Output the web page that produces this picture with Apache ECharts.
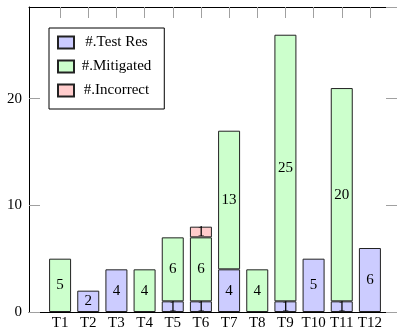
<!DOCTYPE html>
<html>
<head>
<meta charset="utf-8">
<style>
  html, body { margin: 0; padding: 0; background: #fff; }
  #chart { width: 397px; height: 331px; }
</style>
<script src="https://cdn.jsdelivr.net/npm/echarts@6/dist/echarts.min.js"></script>
</head>
<body>
<div id="chart"></div>
<script>
// Test cases and the outcome counts stacked per case
const categories = ['T1', 'T2', 'T3', 'T4', 'T5', 'T6', 'T7', 'T8', 'T9', 'T10', 'T11', 'T12'];
const testRes    = [0, 2, 4, 0, 1, 1, 4, 0, 1, 5, 1, 6];
const mitigated  = [5, 0, 0, 4, 6, 6, 13, 4, 25, 0, 20, 0];
const incorrect  = [0, 0, 0, 0, 0, 1, 0, 0, 0, 0, 0, 0];
const seriesNames = ['#.Test Res', '#.Mitigated', '#.Incorrect'];
const yMax = 28.6;
const yStep = 10;

const FONT = 'Liberation Serif';
const FONT_SIZE = 15;
const INK = '#222';
const TICK = '#a0a0a0';

// Plot frame geometry (outer frame and the inner band holding the bars)
const frame = { left: 29, top: 7, width: 372, height: 305 };
const band  = { left: 46, top: 7, width: 338, height: 305 };

const fills = ['#ccccff', '#ccffcc', '#ffcccc'];
const values = [testRes, mitigated, incorrect];

const chart = echarts.init(document.getElementById('chart'), null, { renderer: 'canvas' });

const series = values.map((vals, i) => ({
  name: seriesNames[i],
  type: 'bar',
  stack: 'total',
  xAxisIndex: 2,
  yAxisIndex: 2,
  barWidth: 22,
  data: vals.map(v => (v === 0 ? '-' : v)),
  itemStyle: { color: fills[i], borderColor: INK, borderWidth: 1 },
  label: {
    show: true,
    position: 'inside',
    color: '#000',
    fontFamily: FONT,
    fontSize: FONT_SIZE
  },
  emphasis: { disabled: true }
}));

const frameLine = { show: true, onZero: false, lineStyle: { color: '#000', width: 1 } };

chart.setOption({
  animation: false,
  textStyle: { fontFamily: FONT },
  grid: [
    Object.assign({ containLabel: false }, frame),
    Object.assign({ containLabel: false }, band)
  ],
  legend: {
    data: seriesNames,
    orient: 'vertical',
    left: 49,
    top: 28,
    padding: [7, 13, 11, 8],
    itemGap: 9,
    itemWidth: 16,
    itemHeight: 12,
    backgroundColor: '#fff',
    borderColor: '#000',
    borderWidth: 1,
    icon: 'rect',
    selectedMode: false,
    formatter: '{t|{name}}',
    textStyle: {
      rich: {
        t: {
          width: 75,
          height: 15,
          align: 'center',
          fontFamily: FONT,
          fontSize: FONT_SIZE,
          color: '#000'
        }
      }
    }
  },
  xAxis: [
    // frame: bottom edge
    {
      type: 'value', gridIndex: 0, position: 'bottom', min: 0, max: 1,
      axisLine: frameLine,
      axisTick: { show: false }, axisLabel: { show: false }, splitLine: { show: false }
    },
    // frame: top edge
    {
      type: 'value', gridIndex: 0, position: 'top', min: 0, max: 1,
      axisLine: frameLine,
      axisTick: { show: false }, axisLabel: { show: false }, splitLine: { show: false }
    },
    // category labels under the bars
    {
      type: 'category', gridIndex: 1, position: 'bottom', data: categories,
      axisLine: { show: false, onZero: false },
      axisTick: { show: false },
      axisLabel: { color: '#000', fontFamily: FONT, fontSize: FONT_SIZE, margin: 4, interval: 0 }
    },
    // category ticks along the top edge
    {
      type: 'category', gridIndex: 1, position: 'top', data: categories,
      axisLine: { show: false, onZero: false },
      axisTick: { show: true, inside: true, alignWithLabel: true, length: 11, lineStyle: { color: TICK } },
      axisLabel: { show: false }
    }
  ],
  yAxis: [
    {
      type: 'value', gridIndex: 0, position: 'left', min: 0, max: yMax, interval: yStep,
      axisLine: frameLine,
      axisTick: { show: true, inside: true, length: 11, lineStyle: { color: TICK } },
      axisLabel: {
        color: '#000', fontFamily: FONT, fontSize: FONT_SIZE, margin: 7,
        showMaxLabel: false
      },
      splitLine: { show: false }
    },
    {
      type: 'value', gridIndex: 0, position: 'right', min: 0, max: yMax, interval: yStep,
      axisLine: frameLine,
      axisTick: { show: true, inside: true, length: 11, lineStyle: { color: TICK } },
      axisLabel: { show: false },
      splitLine: { show: false }
    },
    {
      type: 'value', gridIndex: 1, min: 0, max: yMax,
      show: false
    }
  ],
  series: series
});
</script>
</body>
</html>
